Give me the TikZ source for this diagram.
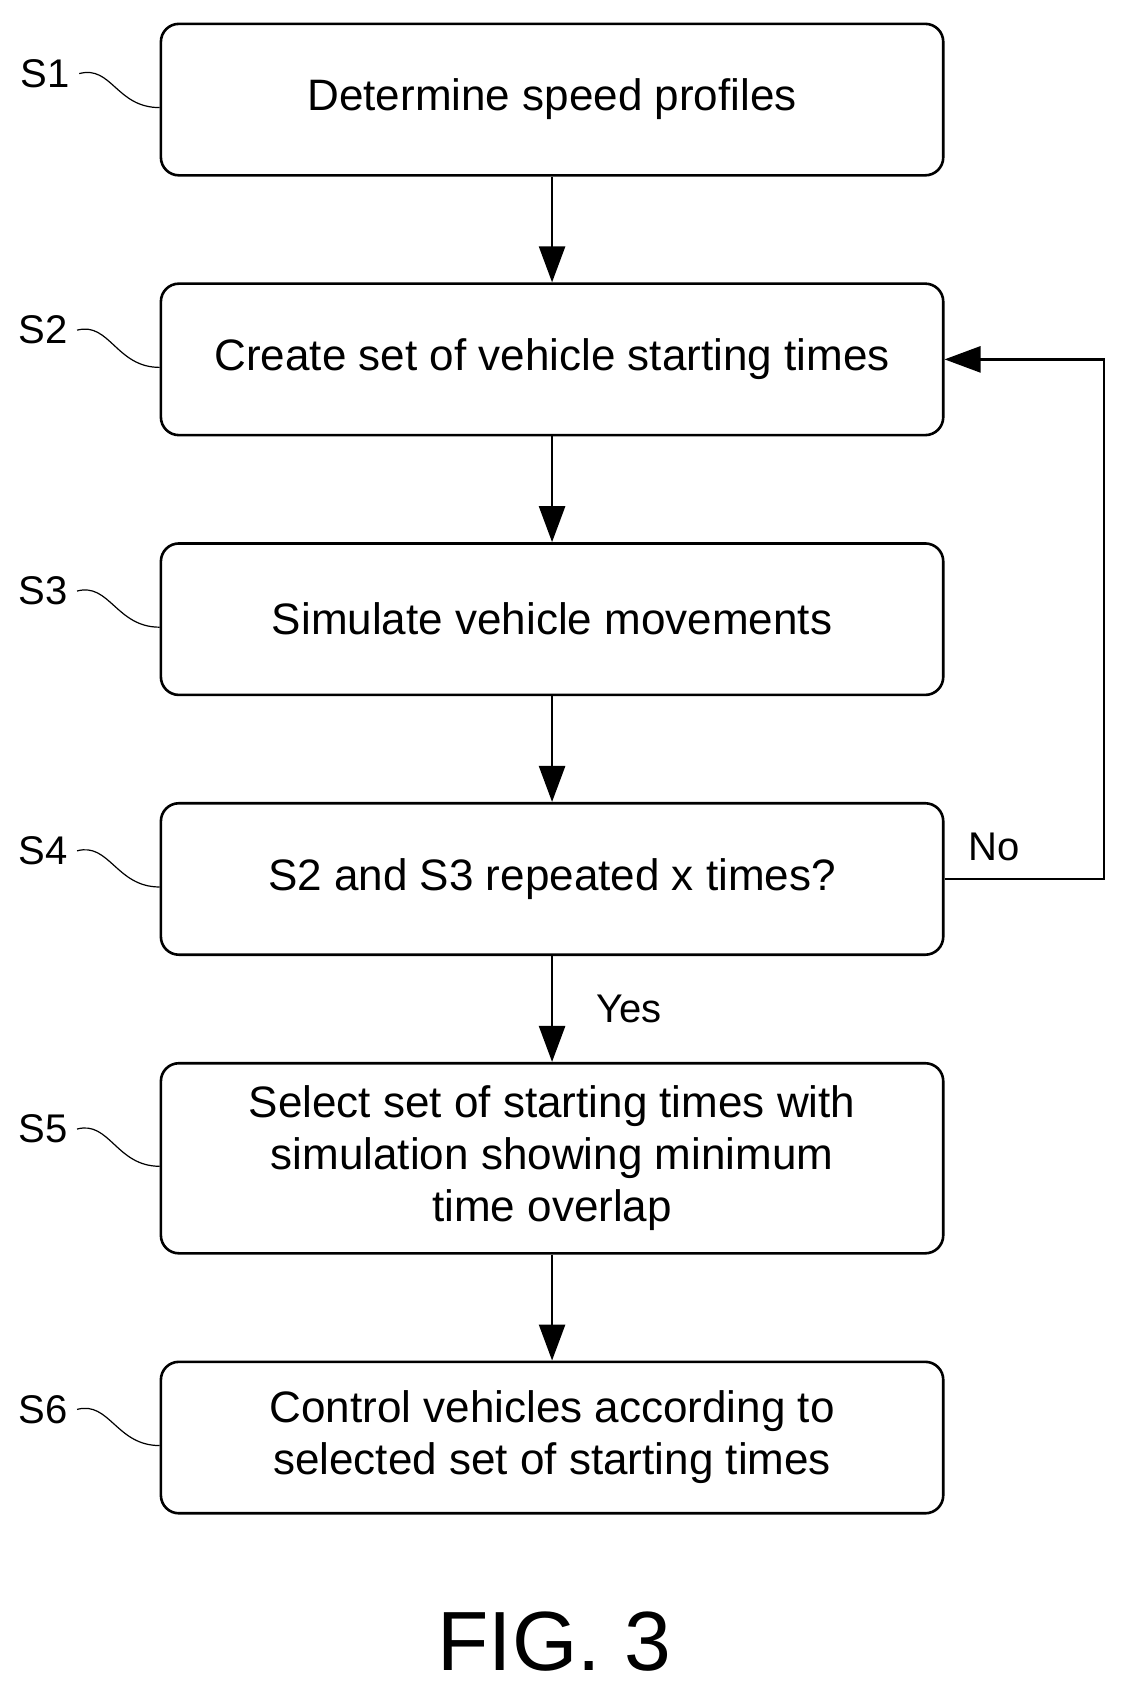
\documentclass[tikz,border=0pt]{standalone}
\usepackage{fontspec}
\setmainfont{Liberation Sans}
\usetikzlibrary{arrows.meta}
\begin{document}
\begin{tikzpicture}[x=0.541pt,y=-0.541pt,line width=1.3pt]
				\tikzstyle{box}=[draw,rounded corners=9pt,minimum width=391pt,minimum height=75.7pt,align=center,font=\fontsize{22}{26}\selectfont]
				\tikzstyle{tag}=[font=\fontsize{20}{24}\selectfont,inner sep=1pt]
				\tikzstyle{flow}=[-{Triangle[length=18pt,width=13pt]}]

				\useasboundingbox (0,0) rectangle (1045,1576);

				\node [box] (s1) at (510,92) {Determine speed profiles};
				\node [box] (s2) at (510,332) {Create set of vehicle starting times};
				\node [box] (s3) at (510,572) {Simulate vehicle movements};
				\node [box] (s4) at (510,812) {S2 and S3 repeated x times?};
				\node [box,minimum height=95pt] (s5) at (510,1070) {Select set of starting times with\\simulation showing minimum\\time overlap};
				\node [box] (s6) at (510,1328) {Control vehicles according to\\selected set of starting times};

				\node [tag] (l1) at (42,68) {S1};
				\node [tag] (l2) at (40,305) {S2};
				\node [tag] (l3) at (40,546) {S3};
				\node [tag] (l4) at (40,786) {S4};
				\node [tag] (l5) at (40,1043) {S5};
				\node [tag] (l6) at (40,1302) {S6};

				\foreach \i in {1,...,6}
				\draw [line width=0.6pt] ([xshift=3pt]l\i.east) .. controls +(30,-8) and +(-40,0) .. ([yshift=-4pt]s\i.west);

				\draw[flow] (s1) -- (s2);
				\draw[flow] (s2) -- (s3);
				\draw[flow] (s3) -- (s4);
				\draw[flow] (s4) -- node [right=18pt,font=\fontsize{20}{24}\selectfont] (yes) {Yes} (s5);
				\draw[flow] (s5) -- (s6);

				\coordinate (loop) at (1020,812);
				\draw[flow] (s4.east) -- (loop) |- (s2.east);
				\node [font=\fontsize{20}{24}\selectfont] (no) at (918,782) {No};

				\node [font=\fontsize{42}{48}\selectfont] (fig) at (512,1516) {FIG. 3};
			\end{tikzpicture}
\end{document}
